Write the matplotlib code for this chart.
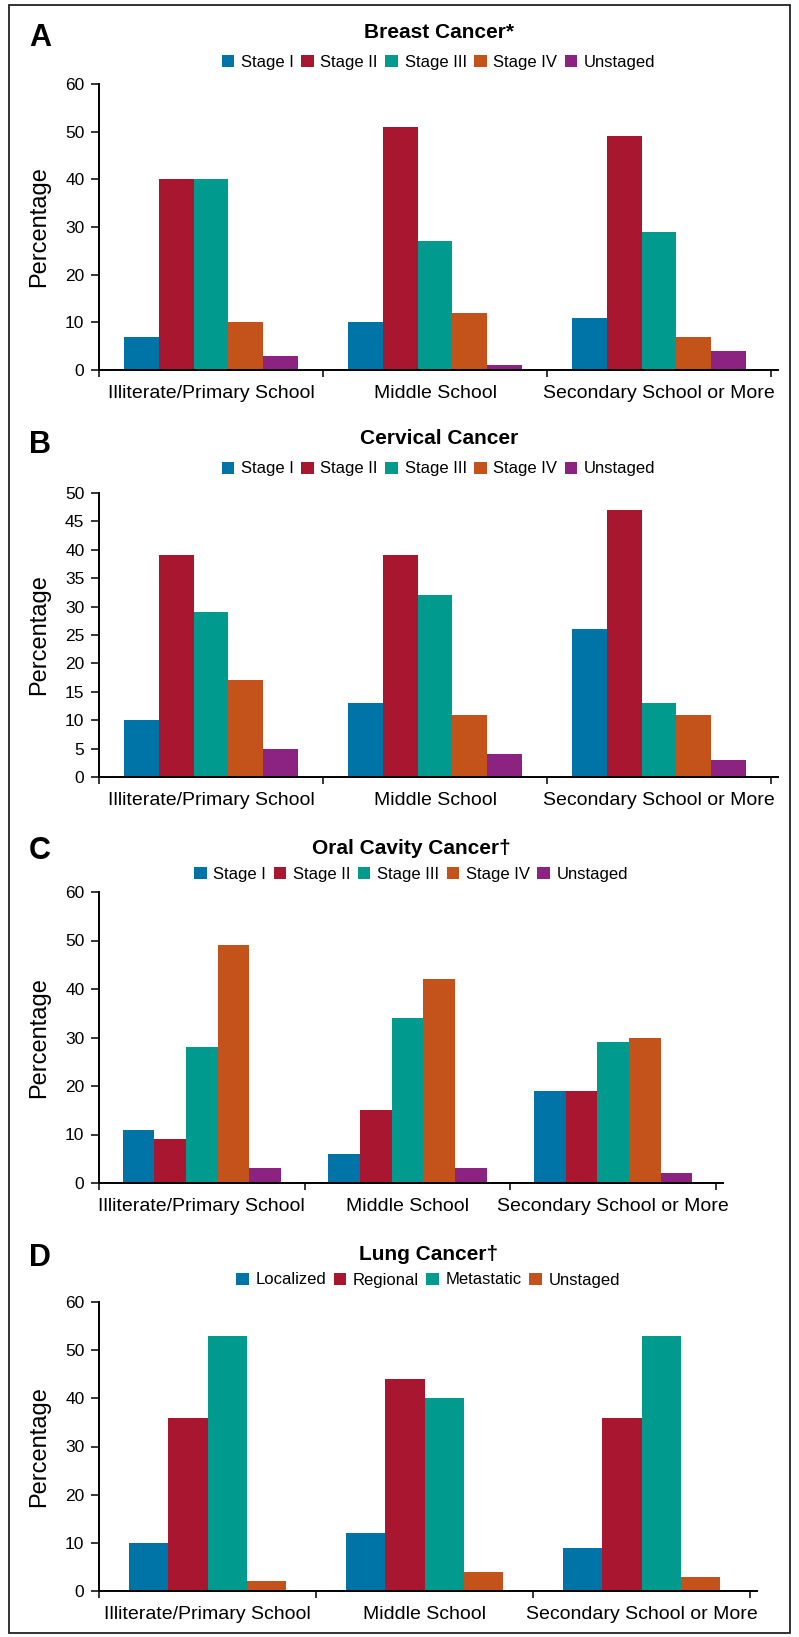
import matplotlib
matplotlib.use("Agg")
import matplotlib.pyplot as plt
import numpy as np
from matplotlib.patches import Patch, Rectangle

plt.rcParams["font.family"] = ["Liberation Sans", "DejaVu Sans"]

# ---- data (percentages) ----
education = ["Illiterate/Primary School", "Middle School", "Secondary School or More"]

stages = ["Stage I", "Stage II", "Stage III", "Stage IV", "Unstaged"]
lung_stages = ["Localized", "Regional", "Metastatic", "Unstaged"]

breast_stage_i = [7, 10, 11]
breast_stage_ii = [40, 51, 49]
breast_stage_iii = [40, 27, 29]
breast_stage_iv = [10, 12, 7]
breast_unstaged = [3, 1, 4]

cervical_stage_i = [10, 13, 26]
cervical_stage_ii = [39, 39, 47]
cervical_stage_iii = [29, 32, 13]
cervical_stage_iv = [17, 11, 11]
cervical_unstaged = [5, 4, 3]

oral_stage_i = [11, 6, 19]
oral_stage_ii = [9, 15, 19]
oral_stage_iii = [28, 34, 29]
oral_stage_iv = [49, 42, 30]
oral_unstaged = [3, 3, 2]

lung_localized = [10, 12, 9]
lung_regional = [36, 44, 36]
lung_metastatic = [53, 40, 53]
lung_unstaged = [2, 4, 3]

COLORS5 = ["#0074A7", "#A8162F", "#009A8F", "#C4521B", "#8C2281"]
COLORS4 = ["#0074A7", "#A8162F", "#009A8F", "#C4521B"]

W, H = 799, 1637
fig = plt.figure(figsize=(W / 100, H / 100), dpi=100)

# outer frame
fig.patches.append(Rectangle((9 / W, 1 - 1633 / H), (790 - 9) / W, (1633 - 5) / H,
                             transform=fig.transFigure, fill=False,
                             edgecolor="#222222", linewidth=1.3))

# (letter, title, series labels, series, colors, ymax, ystep,
#  left px, unit px per category, top px, bottom px, title y, legend y, letter y, group frac)
PANELS = [
    ("A", "Breast Cancer*", stages,
     [breast_stage_i, breast_stage_ii, breast_stage_iii, breast_stage_iv, breast_unstaged],
     COLORS5, 60, 10, 99, 224, 84, 370, 33, 62, 38, 0.78),
    ("B", "Cervical Cancer", stages,
     [cervical_stage_i, cervical_stage_ii, cervical_stage_iii, cervical_stage_iv, cervical_unstaged],
     COLORS5, 50, 5, 99, 224, 493, 777, 439, 469, 445, 0.78),
    ("C", "Oral Cavity Cancer\u2020", stages,
     [oral_stage_i, oral_stage_ii, oral_stage_iii, oral_stage_iv, oral_unstaged],
     COLORS5, 60, 10, 99, 205.7, 892, 1183, 849, 874, 851, 0.77),
    ("D", "Lung Cancer\u2020", lung_stages,
     [lung_localized, lung_regional, lung_metastatic, lung_unstaged],
     COLORS4, 60, 10, 99, 217, 1302, 1591, 1255, 1280, 1258, 0.728),
]

XMAX = 3.033

for (letter, title, labels, series, colors, ymax, ystep, left, unit,
     top, bottom, title_y, leg_y, letter_y, group) in PANELS:
    width_px = unit * XMAX
    ax = fig.add_axes([left / W, 1 - bottom / H, width_px / W, (bottom - top) / H])
    n = len(series)
    bw = group / n
    x = np.arange(len(education)) + 0.5
    for i, (vals, c) in enumerate(zip(series, colors)):
        ax.bar(x - group / 2 + bw * (i + 0.5), vals, width=bw, color=c,
               linewidth=0, zorder=2)

    ax.set_xlim(0, XMAX)
    ax.set_ylim(0, ymax)
    ax.set_yticks(np.arange(0, ymax + 1, ystep))
    ax.set_xticks([0, 1, 2, 3])
    ax.set_xticklabels([])
    ax.set_xticks(x, minor=True)
    ax.set_xticklabels(education, minor=True, fontsize=14)
    ax.tick_params(axis="x", which="minor", length=0, pad=11)
    ax.tick_params(axis="x", which="major", direction="out", length=5, width=1.1)
    ax.tick_params(axis="y", direction="out", length=5.5, width=1.1, pad=5,
                   labelsize=12.5)
    for s in ["top", "right"]:
        ax.spines[s].set_visible(False)
    for s in ["left", "bottom"]:
        ax.spines[s].set_linewidth(1.4)
        ax.spines[s].set_zorder(3)

    cx = (left + width_px / 2) / W
    fig.text(cx, 1 - title_y / H, title, ha="center", va="center",
             fontsize=15, fontweight="bold")
    fig.text(29 / W, 1 - letter_y / H, letter, ha="left", va="center",
             fontsize=22, fontweight="bold")
    fig.text(39 / W, 1 - (top + bottom) / 2 / H, "Percentage", rotation=90,
             ha="center", va="center", fontsize=17)

    handles = [Patch(facecolor=c, edgecolor="none", label=l)
               for l, c in zip(labels, colors)]
    fig.legend(handles=handles, loc="center", bbox_to_anchor=(cx, 1 - leg_y / H),
               ncol=n, frameon=False, fontsize=12, handlelength=0.75,
               handleheight=0.75, handletextpad=0.4, columnspacing=0.45,
               borderpad=0, borderaxespad=0)

fig.savefig("out.png", dpi=100, facecolor="white")
